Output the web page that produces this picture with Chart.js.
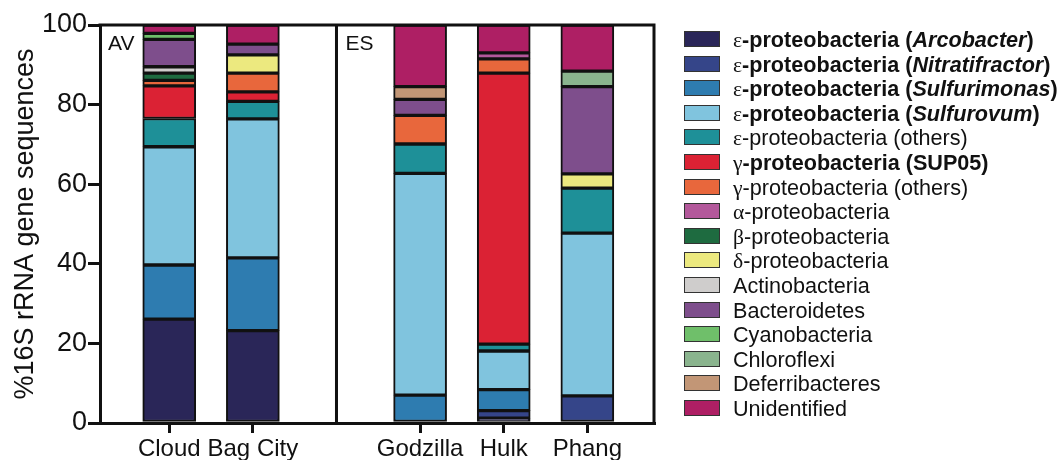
<!DOCTYPE html>
<html>
<head>
<meta charset="utf-8">
<script src="https://cdn.jsdelivr.net/npm/chart.js@4/dist/chart.umd.min.js"></script>
<style>
  html, body { margin: 0; padding: 0; background: #fff; }
  #wrap { position: relative; width: 1063px; height: 460px; overflow: hidden; }
  #c { position: absolute; left: 0; top: 0; }
  #legend { position: absolute; left: 684px; top: 31px; font-family: "Liberation Sans", Arial, sans-serif; font-size: 21.6px; color: #111; }
  .row { position: relative; height: 24.6px; white-space: nowrap; }
  .sw { position: absolute; left: 0; top: 0; width: 34px; height: 14px; border: 1.5px solid #333; }
  .tx { position: absolute; left: 49px; top: -3px; line-height: 24px; }
  .g { font-family: "Liberation Serif", "Times New Roman", serif; font-weight: normal; font-style: normal; }
</style>
</head>
<body>
<div id="wrap">
  <canvas id="c" width="1063" height="460"></canvas>
  <div id="legend"></div>
</div>
<script>
// ---- data ----
const samples = ['Cloud', 'Bag City', 'Godzilla', 'Hulk', 'Phang'];
const panels = ['AV', 'AV', 'ES', 'ES', 'ES'];

const seriesNames = [
  'ε-proteobacteria (Arcobacter)',
  'ε-proteobacteria (Nitratifractor)',
  'ε-proteobacteria (Sulfurimonas)',
  'ε-proteobacteria (Sulfurovum)',
  'ε-proteobacteria (others)',
  'γ-proteobacteria (SUP05)',
  'γ-proteobacteria (others)',
  'α-proteobacteria',
  'β-proteobacteria',
  'δ-proteobacteria',
  'Actinobacteria',
  'Bacteroidetes',
  'Cyanobacteria',
  'Chloroflexi',
  'Deferribacteres',
  'Unidentified'
];
// legend rich text (bold / italic parts)
const legendHtml = [
  '<span class="g">ε</span><b>-proteobacteria (<i>Arcobacter</i>)</b>',
  '<span class="g">ε</span><b>-proteobacteria (<i>Nitratifractor</i>)</b>',
  '<span class="g">ε</span><b>-proteobacteria (<i>Sulfurimonas</i>)</b>',
  '<span class="g">ε</span><b>-proteobacteria (<i>Sulfurovum</i>)</b>',
  '<span class="g">ε</span>-proteobacteria (others)',
  '<span class="g">γ</span><b>-proteobacteria (SUP05)</b>',
  '<span class="g">γ</span>-proteobacteria (others)',
  '<span class="g">α</span>-proteobacteria',
  '<span class="g">β</span>-proteobacteria',
  '<span class="g">δ</span>-proteobacteria',
  'Actinobacteria',
  'Bacteroidetes',
  'Cyanobacteria',
  'Chloroflexi',
  'Deferribacteres',
  'Unidentified'
];
const seriesColors = [
  '#2a2658', '#354589', '#2e7cb0', '#80c4de', '#1e9098', '#db2234', '#e8673c', '#b3589b',
  '#1e6b40', '#ece97f', '#cfcdcc', '#7e4e8c', '#6fbf6a', '#8ab48e', '#c29676', '#ae1f64'
];

// values per sample: Cloud, Bag City, Godzilla, Hulk, Phang
const arcobacter     = [26.1, 23.2, null, 1.2, null];
const nitratifractor = [null, null, null, 1.9, 6.8];
const sulfurimonas   = [13.6, 18.3, 7.0, 5.3, null];
const sulfurovum     = [29.7, 34.9, 55.7, 9.7, 40.9];
const epsOthers      = [7.1, 4.4, 7.4, 1.7, 11.3];
const sup05          = [8.2, 2.4, null, 68.1, null];
const gammaOthers    = [1.4, 4.7, 7.2, 3.6, null];
const alpha          = [null, null, null, 1.5, null];
const beta           = [1.8, null, null, null, null];
const delta          = [null, 4.6, null, null, 3.6];
const actino         = [1.6, null, null, null, null];
const bacteroidetes  = [6.9, 2.7, 4.0, null, 21.9];
const cyano          = [1.5, null, null, null, null];
const chloroflexi    = [null, null, null, null, 3.9];
const deferri        = [null, null, 3.2, null, null];
const unidentified   = [2.1, 4.8, 15.5, 7.0, 11.6];

const seriesValues = [arcobacter, nitratifractor, sulfurimonas, sulfurovum, epsOthers, sup05,
  gammaOthers, alpha, beta, delta, actino, bacteroidetes, cyano, chloroflexi, deferri, unidentified];

const yTicks = [0, 20, 40, 60, 80, 100];

// ---- slot positions: one empty slot between panels ----
const slots = [];
let s = 0;
samples.forEach((name, i) => {
  if (i > 0 && panels[i] !== panels[i - 1]) s += 1;
  slots.push(s);
  s += 1;
});
const panelStarts = [];
samples.forEach((name, i) => { if (i > 0 && panels[i] !== panels[i - 1]) panelStarts.push({ slot: slots[i] - 1, label: panels[i] }); });

const datasets = seriesNames.map((name, k) => ({
  label: name,
  data: seriesValues[k].map((v, i) => (v == null ? null : { x: slots[i], y: v })).filter(p => p),
  backgroundColor: seriesColors[k],
  borderColor: '#111',
  borderWidth: 2,
  borderSkipped: false,
  barThickness: 53
}));

// ---- legend ----
const lg = document.getElementById('legend');
legendHtml.forEach((h, k) => {
  const r = document.createElement('div');
  r.className = 'row';
  r.innerHTML = '<div class="sw" style="background:' + seriesColors[k] + '"></div><div class="tx">' + h + '</div>';
  lg.appendChild(r);
});

const FONT = '"Liberation Sans", Arial, sans-serif';

const framePlugin = {
  id: 'frame',
  afterDatasetsDraw(chart) {
    const { ctx, chartArea: a, scales } = chart;
    ctx.save();
    ctx.strokeStyle = '#111';
    ctx.lineWidth = 3;
    ctx.beginPath();
    ctx.moveTo(a.left - 1.5, a.top);
    ctx.lineTo(a.right, a.top);
    ctx.lineTo(a.right, a.bottom);
    panelStarts.forEach(p => {
      const x = scales.x.getPixelForValue(p.slot);
      ctx.moveTo(x, a.top);
      ctx.lineTo(x, a.bottom);
    });
    ctx.stroke();
    ctx.fillStyle = '#111';
    ctx.font = '21px ' + FONT;
    ctx.textBaseline = 'top';
    ctx.fillText(panels[0], a.left + 8, a.top + 9);
    panelStarts.forEach(p => {
      const x = scales.x.getPixelForValue(p.slot);
      ctx.fillText(p.label, x + 9, a.top + 9);
    });
    ctx.restore();
  }
};

new Chart(document.getElementById('c'), {
  type: 'bar',
  data: { datasets },
  plugins: [framePlugin],
  options: {
    responsive: false,
    animation: false,
    events: [],
    layout: { padding: { left: 0, right: 409, top: 25, bottom: 0 } },
    plugins: { legend: { display: false }, tooltip: { enabled: false } },
    scales: {
      x: {
        type: 'linear',
        stacked: true,
        offset: false,
        bounds: 'data',
        min: -0.828,
        max: 5.797,
        afterBuildTicks(scale) { scale.ticks = slots.map(v => ({ value: v })); },
        afterFit(scale) { scale.height = 37; },
        ticks: {
          autoSkip: false,
          maxRotation: 0,
          padding: 2,
          color: '#111',
          font: { family: FONT, size: 24 },
          callback(v) { const i = slots.indexOf(v); return i >= 0 ? samples[i] : ''; }
        },
        grid: { offset: false, drawOnChartArea: false, drawTicks: true, tickLength: 10, lineWidth: 3, color: '#111' },
        border: { display: true, color: '#111', width: 3 }
      },
      y: {
        stacked: true,
        min: 0,
        max: 100,
        afterBuildTicks(scale) { scale.ticks = yTicks.map(v => ({ value: v })); },
        afterFit(scale) { scale.width = 100; },
        ticks: { padding: 1, color: '#111', font: { family: FONT, size: 27 } },
        grid: { drawOnChartArea: false, drawTicks: true, tickLength: 12, lineWidth: 3, color: '#111' },
        border: { display: true, color: '#111', width: 3 },
        title: {
          display: true,
          text: '%16S rRNA gene sequences',
          color: '#111',
          font: { family: FONT, size: 27 },
          padding: { top: 9, bottom: 0 }
        }
      }
    }
  }
});
</script>
</body>
</html>
